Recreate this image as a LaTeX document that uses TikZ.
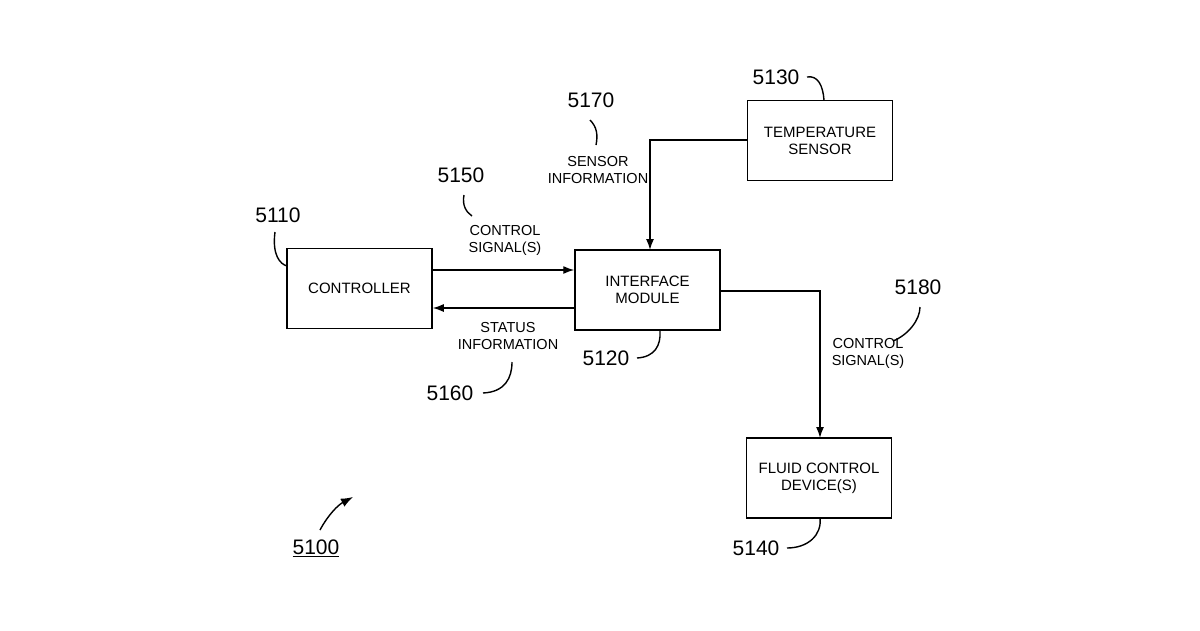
\documentclass[tikz,border=0pt]{standalone}
\usepackage{fontspec}
\setmainfont{Liberation Sans}
\usetikzlibrary{arrows.meta}
\begin{document}
\begin{tikzpicture}[x=1pt,y=-1pt,
  box/.style={draw,line width=1.5pt,minimum width=145pt,minimum height=80pt,align=center,font=\fontsize{15}{17}\selectfont},
  lbl/.style={align=center,font=\fontsize{14.5}{17}\selectfont},
  num/.style={font=\fontsize{21}{24}\selectfont},
  ln/.style={line width=1.4pt},
  arr/.style={ln,-{Latex[length=11pt,width=8pt]}}]
\useasboundingbox (0,0) rectangle (1200,630);
\node[box] (ctrl) at (359.5,288.5) {CONTROLLER};
\node[box] (im) at (647.5,290) {INTERFACE\\MODULE};
\node[box] (ts) at (820,140.5) {TEMPERATURE\\SENSOR};
\node[box] (fc) at (819,478) {FLUID CONTROL\\DEVICE(S)};
\coordinate (a1) at (ctrl.east|-0,270);
\coordinate (a2) at (im.west|-0,270);
\draw[arr] (a1) -- (a2);
\coordinate (b1) at (im.west|-0,308);
\coordinate (b2) at (ctrl.east|-0,308);
\draw[arr] (b1) -- (b2);
\coordinate (c1) at (ts.west|-0,140);
\coordinate (c2) at (650,140);
\coordinate (c3) at (650,250);
\draw[arr] (c1) -- (c2) -- (c3);
\coordinate (d1) at (im.east|-0,291);
\coordinate (d2) at (820,291);
\coordinate (d3) at (820,438);
\draw[arr] (d1) -- (d2) -- (d3);
\node[lbl] (l1) at (505,240) {CONTROL\\SIGNAL(S)};
\node[lbl] (l2) at (508,336) {STATUS\\INFORMATION};
\node[lbl] (l3) at (598,170) {SENSOR\\INFORMATION};
\node[lbl] (l4) at (868,353) {CONTROL\\SIGNAL(S)};
\node[num] (n5110) at (278,215) {5110};
\node[num] (n5150) at (461,175) {5150};
\node[num] (n5160) at (450,393) {5160};
\node[num] (n5120) at (606,358) {5120};
\node[num] (n5170) at (591,100) {5170};
\node[num] (n5130) at (776,77) {5130};
\node[num] (n5180) at (918,287) {5180};
\node[num] (n5140) at (756,548) {5140};
\node[num] (n5100) at (316,548) {\underline{5100}};
\draw[ln] (275,232) .. controls (272,255) and (280,264) .. (287,266);
\draw[ln] (464,195) .. controls (462,205) and (466,212) .. (472,216);
\draw[ln] (483,393) .. controls (505,392) and (512,378) .. (512,362);
\draw[ln] (637,358) .. controls (655,357) and (661,345) .. (660,331);
\draw[ln] (590,120) .. controls (597,127) and (598,135) .. (596,145);
\draw[ln] (807,77) .. controls (818,75) and (823,86) .. (824,100);
\draw[ln] (920,307) .. controls (920,320) and (908,335) .. (893,341);
\draw[ln] (787,548) .. controls (808,548) and (822,535) .. (820,518);
\draw[ln,-{Latex[length=12pt,width=9pt]}] (320,530) .. controls (328,515) and (338,505) .. (353,497);
\end{tikzpicture}
\end{document}
